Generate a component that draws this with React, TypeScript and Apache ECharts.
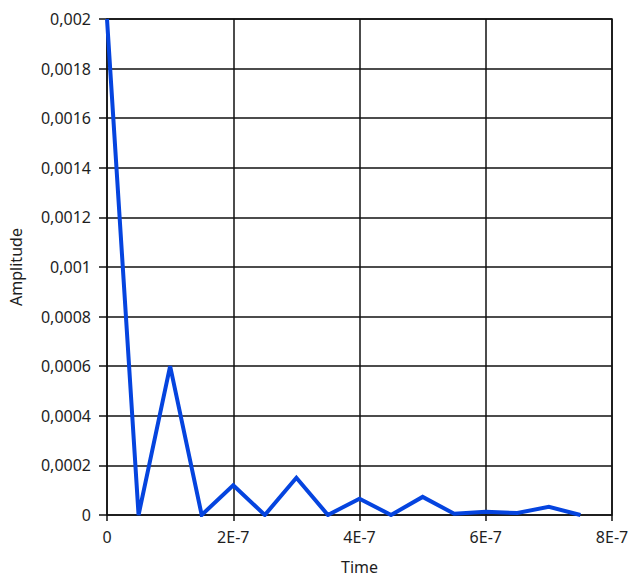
import React, { useEffect, useRef } from "react";
import * as echarts from "echarts";

// Sample instants (seconds) and the measured amplitude at each one
const timeValues = [
  0, 5e-8, 1e-7, 1.5e-7, 2e-7, 2.5e-7, 3e-7, 3.5e-7,
  4e-7, 4.5e-7, 5e-7, 5.5e-7, 6e-7, 6.5e-7, 7e-7, 7.5e-7,
];
const amplitudeValues = [
  0.002, 0, 0.0006, 0, 0.00012, 0, 0.00015, 0,
  0.000066, 0, 0.000073, 0.000005, 0.000013, 0.000008, 0.000033, 0,
];

const xAxisTitle = "Time";
const yAxisTitle = "Amplitude";

const FONT = "'Noto Sans', 'Open Sans', sans-serif";
const TEXT_COLOR = "#1e1e1e";

const formatTime = (v: number) =>
  Math.abs(v) < 1e-12 ? "0" : `${Math.round(v * 1e7)}E-7`;
const formatAmplitude = (v: number) =>
  Math.abs(v) < 1e-12 ? "0" : String(+v.toFixed(4)).replace(".", ",");

export default function App() {
  const ref = useRef<HTMLDivElement>(null);

  useEffect(() => {
    if (!ref.current) return;
    const chart = echarts.init(ref.current, undefined, { renderer: "svg" });
    chart.setOption({
      animation: false,
      backgroundColor: "#ffffff",
      textStyle: { fontFamily: FONT },
      grid: {
        left: 107,
        top: 19,
        right: 20,
        bottom: 63,
        show: true,
        borderColor: "#111",
        borderWidth: 1.5,
        backgroundColor: "transparent",
      },
      xAxis: {
        type: "value",
        min: 0,
        max: 8e-7,
        interval: 2e-7,
        offset: 4,
        name: xAxisTitle,
        nameLocation: "middle",
        nameGap: 40,
        nameTextStyle: { fontSize: 16, color: TEXT_COLOR, fontFamily: FONT },
        axisLine: { show: false },
        axisTick: { show: true, length: 6, lineStyle: { color: "#111", width: 1.5 } },
        axisLabel: {
          formatter: formatTime,
          fontSize: 16,
          color: TEXT_COLOR,
          fontFamily: FONT,
          margin: 10,
        },
        splitLine: { show: true, lineStyle: { color: "#111", width: 1.5 } },
      },
      yAxis: {
        type: "value",
        min: 0,
        max: 0.002,
        interval: 0.0002,
        offset: 3,
        name: yAxisTitle,
        nameLocation: "middle",
        nameGap: 80,
        nameTextStyle: { fontSize: 16, color: TEXT_COLOR, fontFamily: FONT },
        axisLine: { show: false },
        axisTick: { show: true, length: 8, lineStyle: { color: "#111", width: 1.5 } },
        axisLabel: {
          formatter: formatAmplitude,
          fontSize: 16,
          color: TEXT_COLOR,
          fontFamily: FONT,
          margin: 13,
        },
        splitLine: { show: true, lineStyle: { color: "#111", width: 1.5 } },
      },
      series: [
        {
          type: "line",
          data: timeValues.map((t, i) => [t, amplitudeValues[i]]),
          showSymbol: false,
          clip: true,
          lineStyle: { color: "#0544df", width: 4, join: "miter" },
        },
      ],
    });
    return () => chart.dispose();
  }, []);

  return (
    <div
      ref={ref}
      style={{ position: "fixed", left: 0, top: 0, width: 632, height: 580 }}
    />
  );
}
